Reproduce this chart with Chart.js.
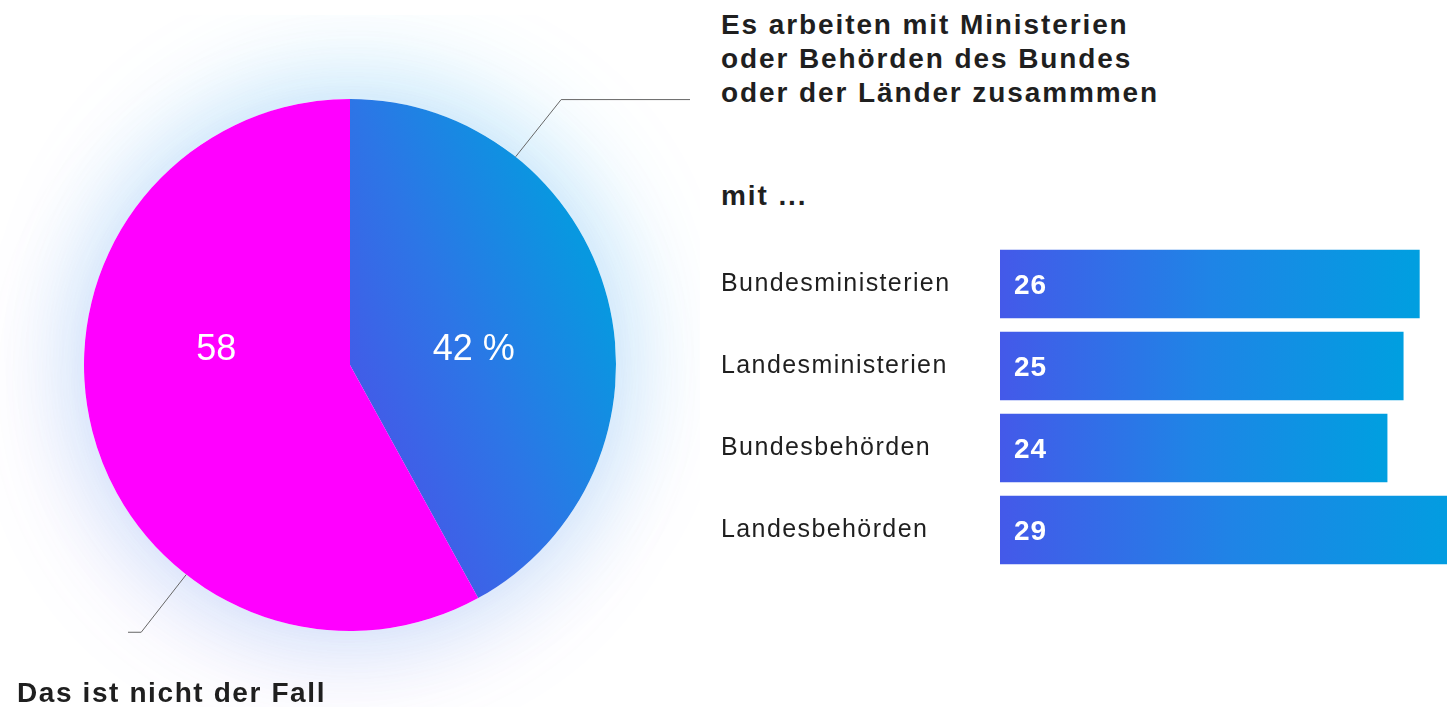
<!DOCTYPE html>
<html lang="de">
<head>
<meta charset="utf-8">
<script src="https://cdn.jsdelivr.net/npm/chart.js@4"></script>
<style>
  html, body { margin: 0; padding: 0; background: #fff; }
  body { width: 1447px; height: 707px; overflow: hidden; position: relative;
         font-family: "Liberation Sans", Arial, sans-serif; color: #1f1f1f; }
  .txt { position: absolute; font-weight: bold; font-size: 28px; line-height: 34px;
         letter-spacing: 1.9px; white-space: nowrap; }
  #pie { position: absolute; left: 0; top: 15px; }
  #bars { position: absolute; left: 721px; top: 228px; }
</style>
</head>
<body>
<canvas id="pie" width="700" height="700"></canvas>
<canvas id="bars" width="779" height="358"></canvas>
<div class="txt" style="left:721px; top:8px;">Es arbeiten mit Ministerien<br>oder Behörden des Bundes<br>oder der Länder zusammmen</div>
<div class="txt" style="left:721px; top:179px;">mit ...</div>
<div class="txt" style="left:17px; top:676px; letter-spacing:1.6px;">Das ist nicht der Fall</div>
<script>
// data
const pieValues = [42, 58];
const pieLabels = ["42 %", "58"];
const barCategories = ["Bundesministerien", "Landesministerien", "Bundesbehörden", "Landesbehörden"];
const barValues = [26, 25, 24, 29];

const ink = "#1f1f1f";

// glow behind the pie
const pieGlow = {
  id: "pieGlow",
  beforeDatasetsDraw(chart) {
    let arc = chart.getDatasetMeta(0).data[0];
    if (!arc) return;
    let { x, y, outerRadius } = arc;
    let ctx = chart.ctx;
    ctx.save();
    ctx.fillStyle = "#fff";
    ctx.shadowBlur = 110;
    ctx.shadowColor = "rgba(0, 190, 240, 0.22)";
    ctx.shadowOffsetX = 10;
    ctx.shadowOffsetY = -20;
    ctx.beginPath();
    ctx.arc(x, y, outerRadius, 0, Math.PI * 2);
    ctx.fill();
    ctx.shadowColor = "rgba(110, 95, 230, 0.20)";
    ctx.shadowOffsetX = -8;
    ctx.shadowOffsetY = 18;
    ctx.beginPath();
    ctx.arc(x, y, outerRadius, 0, Math.PI * 2);
    ctx.fill();
    ctx.restore();
  },
};

// value labels + leader lines
const pieDecor = {
  id: "pieDecor",
  afterDatasetsDraw(chart) {
    let meta = chart.getDatasetMeta(0);
    let ctx = chart.ctx;
    let { x, y, outerRadius } = meta.data[0];
    ctx.save();
    ctx.fillStyle = "#fff";
    ctx.font = "36px 'Liberation Sans', Arial, sans-serif";
    ctx.textAlign = "center";
    ctx.textBaseline = "middle";
    meta.data.forEach((arc, i) => {
      let p = arc.getCenterPoint();
      ctx.fillText(pieLabels[i], p.x - 5, y - 15);
    });

    ctx.strokeStyle = "#666";
    ctx.lineWidth = 1;
    let leader = (deg, endX) => {
      let a = (deg * Math.PI) / 180;
      let sx = x + outerRadius * Math.sin(a);
      let sy = y - outerRadius * Math.cos(a);
      let ex = x + outerRadius * 1.275 * Math.sin(a);
      let ey = y - outerRadius * 1.275 * Math.cos(a);
      ctx.beginPath();
      ctx.moveTo(sx, sy);
      ctx.lineTo(ex, ey);
      ctx.lineTo(endX, ey);
      ctx.stroke();
    };
    leader(38.5, 690);
    leader(218, 128);
    ctx.restore();
  },
};

new Chart(document.getElementById("pie"), {
  type: "pie",
  data: {
    labels: pieLabels,
    datasets: [
      {
        data: pieValues,
        borderWidth: 0,
        backgroundColor: (c) => {
          if (c.dataIndex === 1) return "#ff00ff";
          let a = c.chart.chartArea;
          if (!a) return "#2f7be6";
          let cx = (a.left + a.right) / 2;
          let cy = (a.top + a.bottom) / 2;
          let r = a.width / 2;
          let g = c.chart.ctx.createLinearGradient(cx, cy + r * 0.3, cx + r, cy - r * 0.15);
          g.addColorStop(0, "#4756e8");
          g.addColorStop(0.5, "#2c76e6");
          g.addColorStop(1, "#0898e0");
          return g;
        },
      },
    ],
  },
  options: {
    responsive: false,
    animation: false,
    layout: { padding: 84 },
    plugins: { legend: { display: false }, tooltip: { enabled: false } },
  },
  plugins: [pieGlow, pieDecor],
});

// numbers inside the bars
const barValueLabels = {
  id: "barValueLabels",
  beforeDraw(chart) {
    chart.ctx.letterSpacing = "1.4px";
  },
  afterDatasetsDraw(chart) {
    let ctx = chart.ctx;
    ctx.save();
    ctx.letterSpacing = "1px";
    ctx.fillStyle = "#fff";
    ctx.font = "bold 28px 'Liberation Sans', Arial, sans-serif";
    ctx.textAlign = "left";
    ctx.textBaseline = "middle";
    chart.getDatasetMeta(0).data.forEach((bar, i) => {
      ctx.fillText(barValues[i], bar.base + 14, bar.y + 2);
    });
    ctx.restore();
  },
};

new Chart(document.getElementById("bars"), {
  type: "bar",
  data: {
    labels: barCategories,
    datasets: [
      {
        data: barValues,
        barThickness: 68,
        borderWidth: 0,
        backgroundColor: (c) => {
          let a = c.chart.chartArea;
          let xs = c.chart.scales.x;
          if (!a || !xs) return "#2f7be6";
          let end = xs.getPixelForValue(c.raw);
          let g = c.chart.ctx.createLinearGradient(a.left, 0, end, 0);
          g.addColorStop(0, "#4459e9");
          g.addColorStop(0.5, "#1f84e6");
          g.addColorStop(1, "#009fe0");
          return g;
        },
      },
    ],
  },
  options: {
    indexAxis: "y",
    responsive: false,
    animation: false,
    layout: { padding: 0 },
    scales: {
      x: { display: false, min: 0, max: 31 },
      y: {
        grid: { display: false },
        border: { display: false },
        afterFit: (axis) => { axis.width = 279; },
        ticks: {
          crossAlign: "far",
          padding: 0,
          color: ink,
          font: { family: "'Liberation Sans', Arial, sans-serif", size: 25 },
        },
      },
    },
    plugins: { legend: { display: false }, tooltip: { enabled: false } },
  },
  plugins: [barValueLabels],
});
</script>
</body>
</html>
